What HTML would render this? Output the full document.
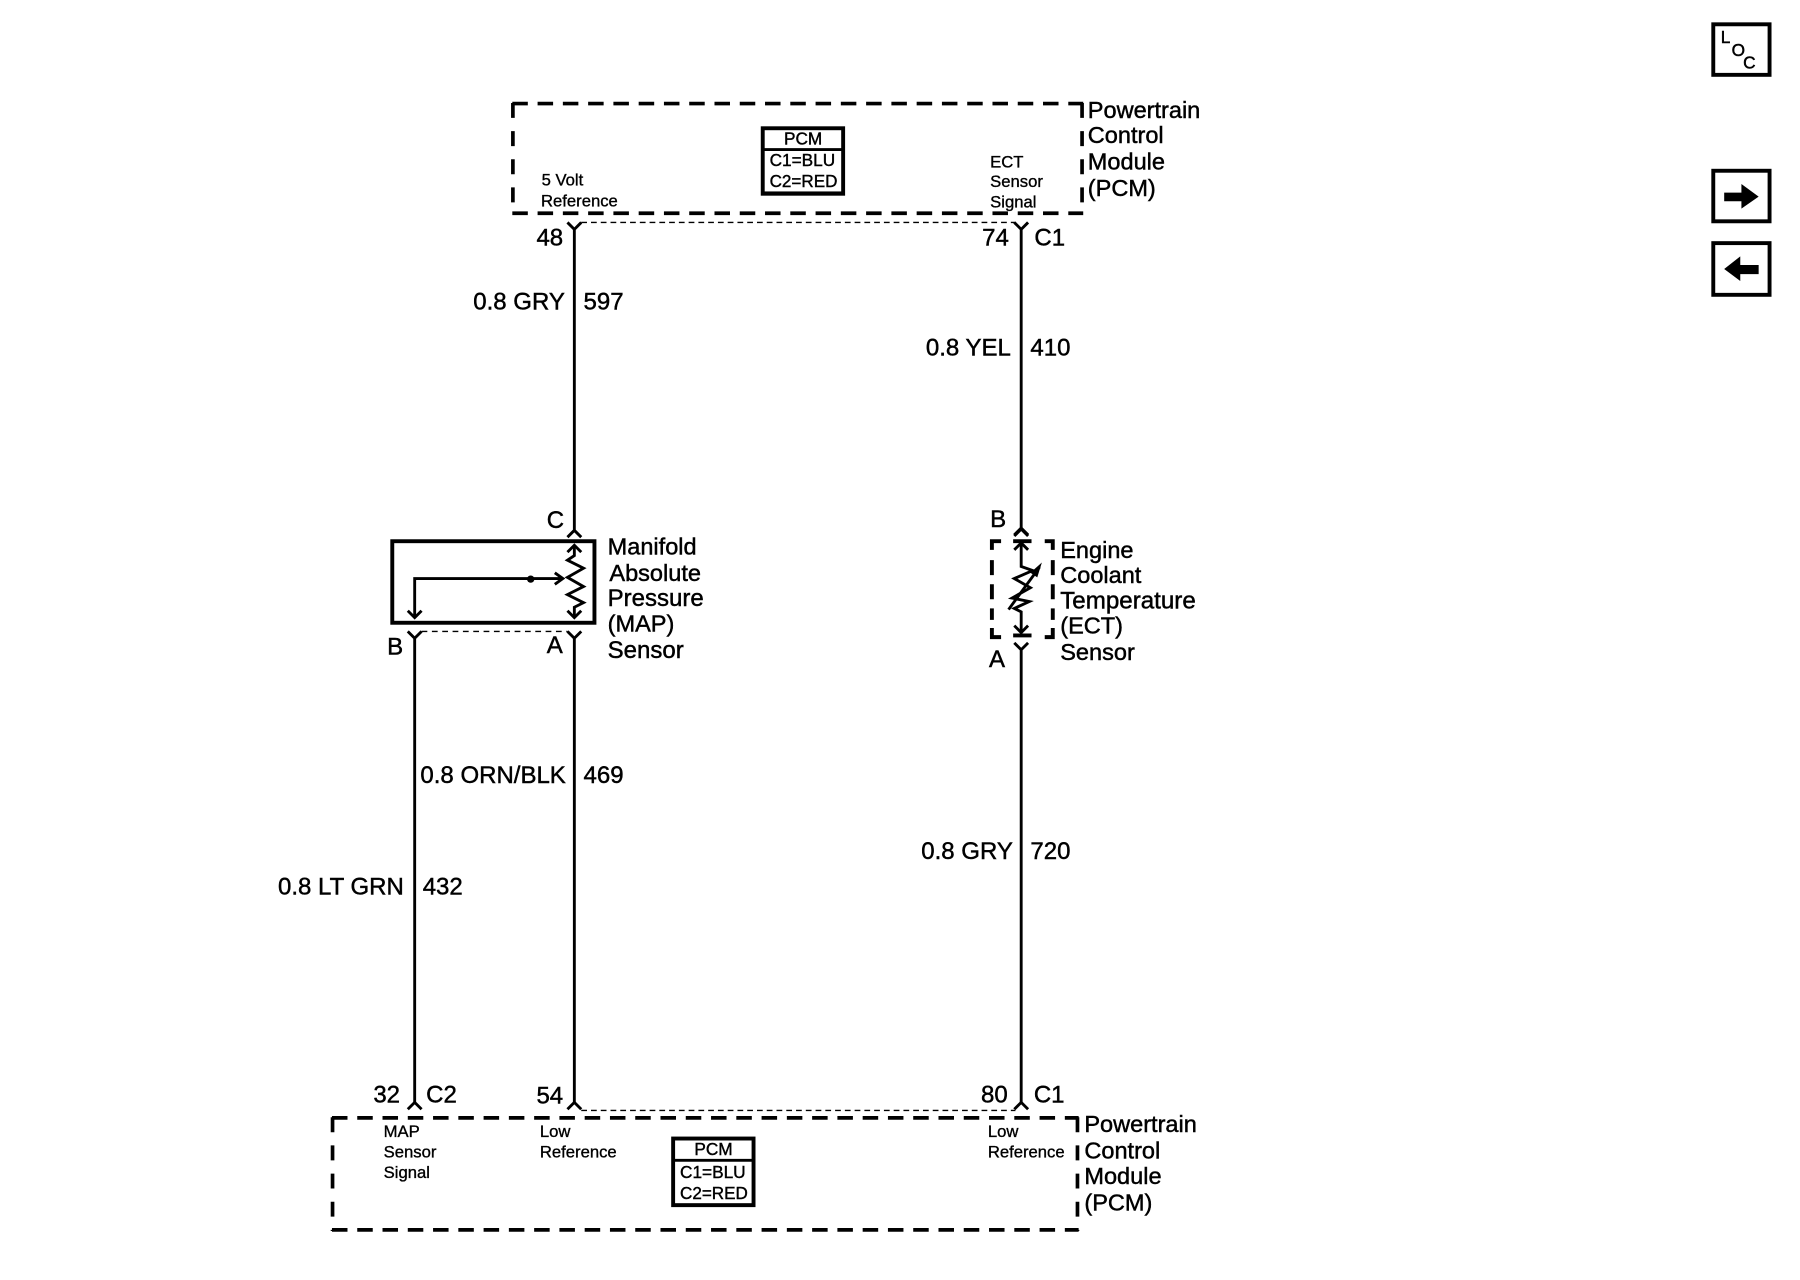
<!DOCTYPE html>
<html><head><meta charset="utf-8"><style>
html,body{margin:0;padding:0;background:#fff}
svg{display:block}
text{font-family:"Liberation Sans",sans-serif;fill:#000;stroke:#000;stroke-width:.4}
.b{font-size:20.5px}.w{font-size:20.9px}.s{font-size:14.5px;stroke-width:.3}.m{font-size:15px;stroke-width:.35}
.l{fill:none;stroke:#000;stroke-width:2.5}
.t{fill:none;stroke:#000;stroke-width:1.2}
.d{fill:none;stroke:#000;stroke-width:3.2;stroke-dasharray:13.5 8.5}
.dv{fill:none;stroke:#000;stroke-width:3.2;stroke-dasharray:13 11.5}
.k{fill:none;stroke:#000;stroke-width:3.4}
</style></head><body>
<svg width="1800" height="1280" viewBox="0 0 1567 1113" xmlns="http://www.w3.org/2000/svg">
<rect x="0" y="0" width="1567" height="1113" fill="#fff"/>
<g transform="translate(0,-1)">

<!-- top PCM -->
<g transform="translate(-1,0)">
<path class="d" d="M447 90.500H944"/><path class="d" d="M447 186H944"/>
<path class="dv" d="M447.500 90V186"/><path class="dv" d="M943 90V186"/>
</g>
<rect class="k" x="664" y="112" width="70" height="57"/><path class="l" d="M664 130.500H734"/>
<rect x="663" y="167" width="72" height="3.500"/>
<text class="m" x="682.500" y="126">PCM</text>
<text class="m" x="670" y="145">C1=BLU</text>
<text class="m" x="670" y="163" textLength="59" lengthAdjust="spacingAndGlyphs">C2=RED</text>
<text class="s" x="471.500" y="162">5 Volt</text>
<text class="s" x="471" y="180">Reference</text>
<text class="s" x="862" y="146">ECT</text>
<text class="s" x="862" y="163">Sensor</text>
<text class="s" x="862" y="181">Signal</text>
<text class="b" x="947" y="103">Powertrain</text>
<text class="b" x="947" y="125">Control</text>
<text class="b" x="947" y="148">Module</text>
<text class="b" x="947" y="171">(PCM)</text>

<!-- top connectors -->
<path class="t" d="M506 194H884" stroke-dasharray="5 3.500"/>
<path class="l" d="M494 194L500 200L506 194M500 200V462M494 468L500 462L506 468"/>
<path class="l" d="M883 194L889 200L895 194M889 200V461M883 467L889 461L895 467"/>
<text class="w" x="467" y="214">48</text>
<text class="w" x="855" y="214">74</text>
<text class="w" x="900.500" y="214">C1</text>
<text class="w" x="412" y="270">0.8 GRY</text>
<text class="w" x="508" y="270">597</text>
<text class="w" x="806" y="310">0.8 YEL</text>
<text class="w" x="897" y="310">410</text>

<!-- MAP sensor -->
<text class="w" x="476" y="460">C</text>
<rect class="k" x="341.500" y="471.500" width="176" height="71"/>
<path class="l" d="M500 475V484L494 488L508 495L494 503L508 511L494 518L508 525L500 529V538"/>
<path class="l" d="M494 481L500 475L506 481M494 532L500 538L506 532"/>
<path class="l" d="M490 504H361V538M355 532L361 538L367 532M483 499L490 504L483 509"/>
<circle cx="462" cy="504.500" r="3.200"/>
<text class="b" x="529" y="483">Manifold</text>
<text class="b" x="530.500" y="506">Absolute</text>
<text class="w" x="529" y="528">Pressure</text>
<text class="b" x="529" y="550">(MAP)</text>
<text class="w" x="529" y="573">Sensor</text>
<path class="t" d="M367 550H494" stroke-dasharray="5 4"/>
<path class="l" d="M355 550L361 556L367 550M361 556V960M494 550L500 556L506 550M500 556V960"/>
<text class="w" x="337" y="570">B</text>
<text class="w" x="476" y="569">A</text>
<text class="w" x="366" y="682">0.8 ORN/BLK</text>
<text class="w" x="508" y="682">469</text>
<text class="w" x="242" y="779">0.8 LT GRN</text>
<text class="w" x="368" y="779">432</text>

<!-- ECT sensor -->
<text class="w" x="862" y="459">B</text>
<g transform="translate(-0.500,0)">
<path class="k" d="M864 479V471.500H872M910 471.500H917V479M864 547V555H872M910 555H917V547"/>
<path class="k" stroke-dasharray="13 8" d="M864 488V540M917 488V540"/>
</g>
<path class="k" d="M882 471.500H898M882 553.500H898"/>
<path class="l" d="M889 473V493.500L899 497L883 504L897 512L881 521L896 524L883 530L889 533V551"/>
<path class="l" d="M883 479L889 473L895 479M883 545L889 551L895 545"/>
<path class="l" d="M878 531L905 494"/>
<path d="M907 490L897 499L903 503Z"/>
<path class="l" d="M883 466L889 460L895 466M883 560L889 566L895 560M889 566V960"/>
<text class="b" x="923" y="486">Engine</text>
<text class="b" x="923" y="508">Coolant</text>
<text class="w" x="923" y="530" textLength="118" lengthAdjust="spacingAndGlyphs">Temperature</text>
<text class="b" x="923" y="552">(ECT)</text>
<text class="b" x="923" y="575">Sensor</text>
<text class="w" x="861" y="581">A</text>
<text class="w" x="802" y="748">0.8 GRY</text>
<text class="w" x="897" y="748">720</text>

<!-- bottom connectors -->
<path class="l" d="M355 966L361 960L367 966M494 966L500 960L506 966M883 966L889 960L895 966"/>
<path class="t" d="M506 967H884" stroke-dasharray="5 3.500"/>
<text class="w" x="325" y="960">32</text>
<text class="w" x="371" y="960">C2</text>
<text class="w" x="467" y="961">54</text>
<text class="w" x="854" y="960">80</text>
<text class="w" x="900" y="960">C1</text>

<!-- bottom PCM -->
<g transform="translate(-1,0)">
<path class="d" d="M290 973.500H940"/><path class="d" d="M290 1071H940"/>
<path class="dv" d="M290.500 973V1072"/><path class="dv" d="M939 973V1072"/>
</g>
<rect class="k" x="586" y="991.500" width="70" height="58"/><path class="l" d="M586 1010.500H656"/>
<rect x="585" y="1048" width="72" height="3"/>
<text class="m" x="604.500" y="1006">PCM</text>
<text class="m" x="592" y="1026">C1=BLU</text>
<text class="m" x="592" y="1044" textLength="59" lengthAdjust="spacingAndGlyphs">C2=RED</text>
<text class="s" x="334" y="990">MAP</text>
<text class="s" x="334" y="1008">Sensor</text>
<text class="s" x="334" y="1026">Signal</text>
<text class="s" x="470" y="990">Low</text>
<text class="s" x="470" y="1008">Reference</text>
<text class="s" x="860" y="990">Low</text>
<text class="s" x="860" y="1008">Reference</text>
<text class="b" x="944" y="986">Powertrain</text>
<text class="b" x="944" y="1009">Control</text>
<text class="b" x="944" y="1031">Module</text>
<text class="b" x="944" y="1054">(PCM)</text>

<!-- right icons -->
<g transform="translate(-1,0)">
<rect class="k" x="1492.500" y="21.500" width="49" height="44"/>
<text x="1499" y="38" style="font-size:15px">L</text>
<text x="1508.500" y="49" style="font-size:15px">O</text>
<text x="1518.500" y="60" style="font-size:15px">C</text>
<rect class="k" x="1492.500" y="149" width="49" height="44"/>
<path d="M1502 168H1517V160.500L1532 171.500L1517 182V175.500H1502Z"/>
<rect class="k" x="1492.500" y="212" width="49" height="45"/>
<path d="M1502 234.500L1516 223.500V231H1532V239H1516V245Z"/>
</g>
</g>
</svg>
</body></html>
